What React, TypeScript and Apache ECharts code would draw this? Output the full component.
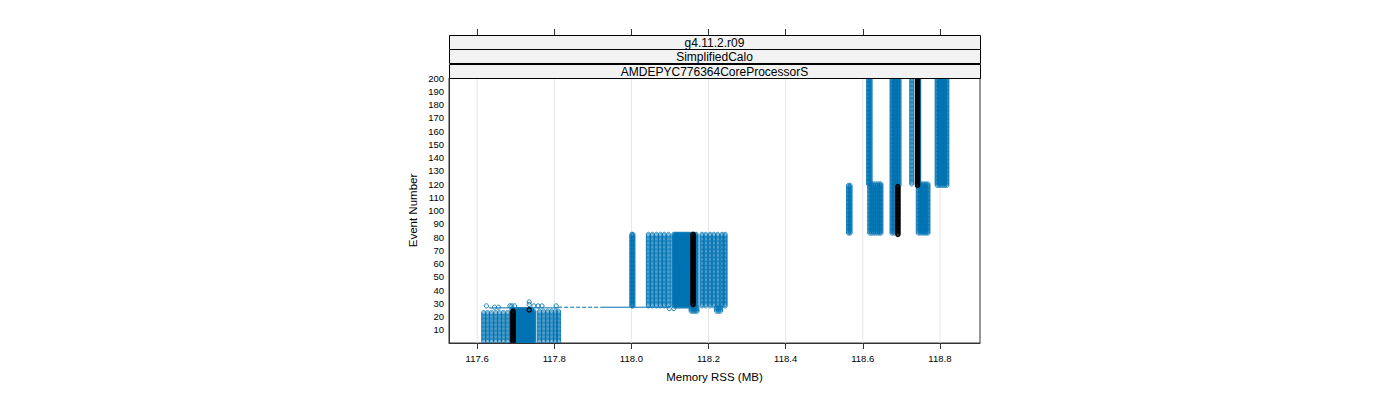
import React, { useEffect, useRef } from "react";
import * as echarts from "echarts";

// ---- axes / labels ----
const xTicks = [117.6, 117.8, 118.0, 118.2, 118.4, 118.6, 118.8];
const xMin = 117.527;
const xMax = 118.904;
const yMin = 0;
const yMax = 200;
const stripLabels = ["g4.11.2.r09", "SimplifiedCalo", "AMDEPYC776364CoreProcessorS"];
const xTitle = "Memory RSS (MB)";
const yTitle = "Event Number";

// ---- data: [memory RSS (MB), first event, last event] ----
const earlyColumns: number[][] = [
  [117.617, 1, 23], [117.627, 1, 23], [117.637, 1, 23], [117.648, 1, 23],
  [117.658, 1, 23], [117.668, 1, 23], [117.679, 1, 23],
  [117.690, 1, 25], [117.693, 1, 25], [117.696, 1, 25], [117.699, 1, 25],
  [117.702, 1, 25], [117.705, 1, 25], [117.708, 1, 25], [117.711, 1, 25],
  [117.714, 1, 25], [117.717, 1, 25], [117.720, 1, 25], [117.723, 1, 25],
  [117.726, 1, 25], [117.729, 1, 25], [117.732, 1, 25], [117.735, 1, 25],
  [117.738, 1, 25], [117.741, 1, 25], [117.744, 1, 24], [117.747, 1, 24],
  [117.762, 1, 24], [117.772, 1, 24], [117.783, 1, 24], [117.793, 1, 24],
  [117.803, 1, 24], [117.811, 1, 24],
];

const middleColumns: number[][] = [
  [118.001, 28, 82], [118.004, 28, 82],
  [118.044, 28, 82], [118.054, 28, 82], [118.065, 28, 82], [118.075, 28, 82],
  [118.085, 28, 82], [118.096, 28, 82],
  [118.110, 28, 82], [118.113, 28, 82], [118.116, 28, 82], [118.119, 28, 82],
  [118.122, 28, 82], [118.125, 28, 82], [118.128, 28, 82], [118.131, 28, 82],
  [118.134, 28, 82], [118.137, 28, 82], [118.140, 28, 82], [118.143, 28, 82],
  [118.146, 28, 82], [118.149, 28, 82], [118.152, 28, 82], [118.155, 28, 82],
  [118.165, 28, 82], [118.168, 28, 82],
  [118.183, 28, 82], [118.193, 28, 82], [118.204, 28, 82], [118.214, 28, 82],
  [118.224, 28, 82], [118.235, 28, 82], [118.243, 28, 82],
  [118.155, 24, 27], [118.160, 24, 27], [118.165, 24, 27], [118.170, 24, 27],
  [118.221, 24, 27], [118.226, 24, 27], [118.231, 24, 27],
];

const lateColumns: number[][] = [
  [118.563, 83, 119], [118.567, 83, 119],
  [118.615, 120, 200], [118.619, 120, 200],
  [118.618, 83, 120], [118.623, 83, 120], [118.628, 83, 120], [118.633, 83, 120],
  [118.638, 83, 120], [118.643, 83, 120], [118.647, 83, 120],
  [118.676, 119, 200], [118.681, 119, 200], [118.686, 119, 200], [118.690, 119, 200],
  [118.694, 119, 200],
  [118.676, 83, 118], [118.681, 83, 118],
  [118.727, 120, 200], [118.745, 120, 200],
  [118.744, 83, 120], [118.749, 83, 120], [118.754, 83, 120], [118.759, 83, 120],
  [118.764, 83, 120], [118.769, 83, 120],
  [118.793, 119, 200], [118.798, 119, 200], [118.803, 119, 200], [118.808, 119, 200],
  [118.813, 119, 200], [118.818, 119, 200],
];

// isolated points: [memory RSS (MB), event]
const isolatedPoints: number[][] = [
  [117.624, 28], [117.645, 27], [117.655, 27], [117.685, 28], [117.690, 28],
  [117.697, 28], [117.735, 31], [117.735, 29], [117.747, 28], [117.758, 28],
  [117.768, 28], [117.805, 28], [118.098, 26], [118.110, 26],
];

const referenceColumns: number[][] = [
  [117.693, 1, 24], [118.160, 29, 82], [118.691, 82, 118], [118.742, 119, 200],
];
const referencePoints: number[][] = [[117.735, 25]];

const connectorSolid: number[][][] = [
  [[117.63, 26.5], [117.81, 26.5]],
  [[117.92, 27], [118.10, 27]],
];
const connectorDashed: number[][][] = [[[117.81, 27], [117.92, 27]]];

// ---- styles ----
const BLUE = "#0072B2";
const FONT = "Liberation Sans";
const R = 2.1;

function columnRenderer(color: string, r: number, lw: number) {
  return (_params: any, api: any) => {
    const x = api.value(0);
    const y0 = api.value(1);
    const y1 = api.value(2);
    const children: any[] = [];
    for (let e = y0; e <= y1; e++) {
      const p = api.coord([x, e]);
      children.push({
        type: "circle",
        shape: { cx: p[0], cy: p[1], r },
        style: { fill: "none", stroke: color, lineWidth: lw },
      });
    }
    return { type: "group", children };
  };
}

export default function App() {
  const ref = useRef<HTMLDivElement>(null);

  useEffect(() => {
    if (!ref.current) return;
    const chart = echarts.init(ref.current, null, { renderer: "svg" });

    const gridLeft = 449;
    const gridRight = 980;
    const gridTop = 78;
    const stripH = 14.33;

    const strips: any[] = [];
    stripLabels.forEach((label, i) => {
      const top = gridTop - stripH * (stripLabels.length - i);
      strips.push({
        type: "rect",
        shape: { x: gridLeft + 0.5, y: Math.round(top) + 0.5, width: gridRight - gridLeft, height: Math.round(stripH) },
        style: { fill: "#f2f2f2", stroke: "#000", lineWidth: 1 },
        z: 10,
      });
      strips.push({
        type: "text",
        x: (gridLeft + gridRight) / 2,
        y: Math.round(top) + stripH / 2 + 1,
        style: {
          text: label,
          fontFamily: FONT,
          fontSize: 12,
          fill: "#000",
          align: "center",
          verticalAlign: "middle",
        },
        z: 11,
      });
    });

    const lineSeries = (segs: number[][][], type: string) =>
      segs.map((seg) => ({
        type: "line",
        data: seg,
        symbol: "none",
        lineStyle: { color: BLUE, width: 1, type },
        silent: true,
        z: 3,
      }));

    chart.setOption({
      animation: false,
      backgroundColor: "#fff",
      textStyle: { fontFamily: FONT },
      grid: {
        left: gridLeft,
        top: gridTop,
        width: gridRight - gridLeft,
        height: 343 - gridTop,
        show: true,
        borderColor: "#333",
        borderWidth: 1,
        backgroundColor: "transparent",
      },
      graphic: strips,
      xAxis: [
        {
          type: "value",
          min: xMin,
          max: xMax,
          position: "bottom",
          name: xTitle,
          nameLocation: "middle",
          nameGap: 28,
          nameTextStyle: { fontFamily: FONT, fontSize: 11.5, color: "#000" },
          axisLine: { show: true, lineStyle: { color: "#333" } },
          axisTick: { show: true, length: 6, customValues: xTicks, lineStyle: { color: "#333" } },
          axisLabel: {
            customValues: xTicks,
            fontFamily: FONT,
            fontSize: 9.5,
            color: "#000",
            margin: 10,
            formatter: (v: number) => v.toFixed(1),
          },
          splitLine: { show: false },
        },
        {
          type: "value",
          min: xMin,
          max: xMax,
          position: "top",
          offset: 43,
          axisLine: { show: false },
          axisTick: { show: true, length: 6, customValues: xTicks, lineStyle: { color: "#333" } },
          axisLabel: { show: false },
          splitLine: { show: false },
        },
      ],
      yAxis: {
        type: "value",
        min: yMin,
        max: yMax,
        interval: 10,
        name: yTitle,
        nameLocation: "middle",
        nameGap: 30,
        nameTextStyle: { fontFamily: FONT, fontSize: 11.5, color: "#000" },
        axisLine: { show: true, lineStyle: { color: "#333" } },
        axisTick: { show: false },
        axisLabel: {
          fontFamily: FONT,
          fontSize: 9.5,
          color: "#000",
          margin: 5,
          formatter: (v: number) => (v === 0 ? "" : String(v)),
        },
        splitLine: { show: false },
      },
      series: [
        {
          type: "custom",
          name: "grid",
          silent: true,
          clip: true,
          z: 1,
          data: xTicks.map((v) => [v]),
          renderItem: (_p: any, api: any) => {
            const a = api.coord([api.value(0), yMin]);
            const b = api.coord([api.value(0), yMax]);
            return {
              type: "line",
              shape: { x1: a[0], y1: a[1], x2: b[0], y2: b[1] },
              style: { stroke: "#e6e6e6", lineWidth: 1 },
            };
          },
        },
        ...[earlyColumns, middleColumns, lateColumns].map((cols) => ({
          type: "custom",
          silent: true,
          clip: true,
          z: 2,
          encode: { x: 0, y: [1, 2] },
          data: cols,
          renderItem: columnRenderer(BLUE, R, 0.8),
        })),
        {
          type: "custom",
          silent: true,
          clip: true,
          z: 2,
          encode: { x: 0, y: 1 },
          data: isolatedPoints.map((p) => [p[0], p[1], p[1]]),
          renderItem: columnRenderer(BLUE, R, 0.9),
        },
        ...lineSeries(connectorSolid, "solid"),
        ...lineSeries(connectorDashed, "dashed"),
        {
          type: "custom",
          silent: true,
          clip: true,
          z: 4,
          encode: { x: 0, y: [1, 2] },
          data: [...referenceColumns, ...referencePoints.map((p) => [p[0], p[1], p[1]])],
          renderItem: columnRenderer("#000", R, 1.3),
        },
      ],
    });

    return () => chart.dispose();
  }, []);

  return (
    <div
      ref={ref}
      style={{ position: "fixed", left: 0, top: 0, width: 1400, height: 400, background: "#fff" }}
    />
  );
}
